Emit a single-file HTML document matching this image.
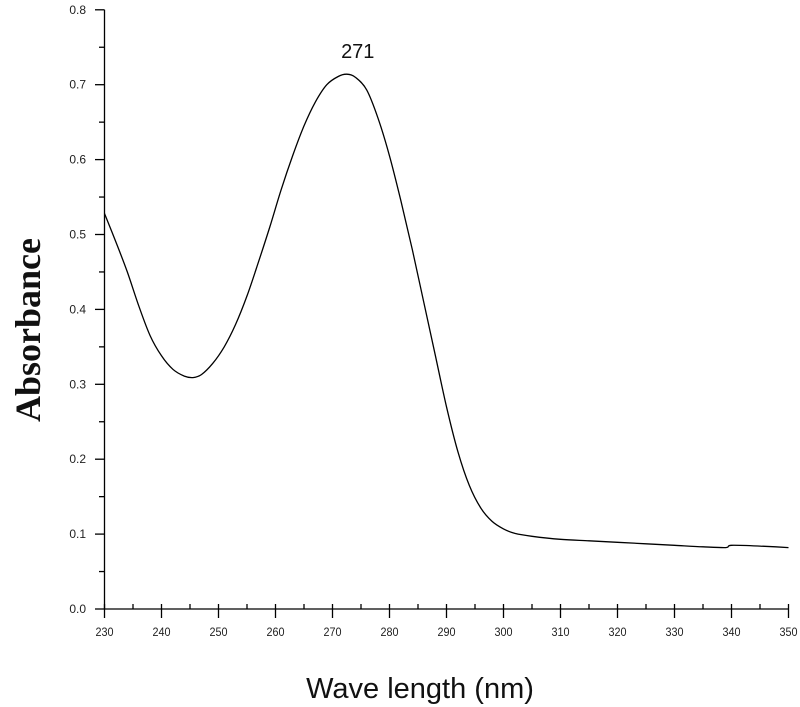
<!DOCTYPE html>
<html><head><meta charset="utf-8"><style>
html,body{margin:0;padding:0;background:#fff;}
svg{display:block;font-family:"Liberation Sans",sans-serif;}
</style></head><body>
<svg id="chart" width="800" height="707"></svg>
<script>
const wavelengths=[230,232,234,236,238,240,242,244,245.5,247,249,251,253,255,257,259,261,263,265,267,269,271,272.5,274,276,278,280,282,284,286,288,290,292,294,296,298,300,302,305,310,315,320,325,330,335,339,340,345,350];
const absorbance=[0.528,0.49,0.45,0.405,0.365,0.338,0.32,0.311,0.309,0.313,0.328,0.35,0.38,0.418,0.463,0.51,0.56,0.605,0.645,0.677,0.7,0.711,0.714,0.71,0.693,0.655,0.605,0.545,0.48,0.41,0.34,0.27,0.21,0.165,0.135,0.117,0.107,0.101,0.097,0.093,0.091,0.089,0.087,0.085,0.083,0.082,0.085,0.084,0.082];
const xTicks=[230,240,250,260,270,280,290,300,310,320,330,340,350];
const yTicks=[0.0,0.1,0.2,0.3,0.4,0.5,0.6,0.7,0.8];
const peakLabel="271";const peakX=272.5;const peakY=0.714;

const NS="http://www.w3.org/2000/svg";
const svg=document.getElementById('chart');
const X=v=>104.5+(v-230)*5.7;
const Y=v=>609-v*749;
function mk(tag,attrs,parent){const e=document.createElementNS(NS,tag);for(const k in attrs)e.setAttribute(k,attrs[k]);(parent||svg).appendChild(e);return e;}

const ax=mk('g',{stroke:'#000','stroke-width':1.3,fill:'none'});


const yl=mk('line',{x1:104.5,y1:Y(0.8),x2:104.5,y2:609},ax);


const xl=mk('line',{x1:104.5,y1:609,x2:X(350),y2:609},ax);



xTicks.forEach((t,i)=>{
  const tk=mk('line',{x1:X(t),y1:604,x2:X(t),y2:618},ax);
  
  
  if(i<xTicks.length-1){const m=mk('line',{x1:X(t+5),y1:604,x2:X(t+5),y2:609},ax);
  
  }
  const tx=mk('text',{x:X(t),y:636,'text-anchor':'middle','font-size':12,fill:'#222',transform:'translate('+X(t)+',0) scale(0.9,1) translate('+(-X(t))+',0)'});
  tx.textContent=t;
  
  
});
yTicks.forEach((t,i)=>{
  const tk=mk('line',{x1:95,y1:Y(t),x2:104.5,y2:Y(t)},ax);
  
  
  if(i<yTicks.length-1){const m=mk('line',{x1:99,y1:Y(t+0.05),x2:104.5,y2:Y(t+0.05)},ax);
  
  }
  const tx=mk('text',{x:86,y:Y(t)+4,'text-anchor':'end','font-size':12,fill:'#222'});
  tx.textContent=t.toFixed(1);
  
  
});

const pts=wavelengths.map((w,i)=>[X(w),Y(absorbance[i])]);
let d='M'+pts[0][0].toFixed(1)+','+pts[0][1].toFixed(1);
for(let i=0;i<pts.length-1;i++){
  const p0=pts[Math.max(0,i-1)],p1=pts[i],p2=pts[i+1],p3=pts[Math.min(pts.length-1,i+2)];
  const c1x=p1[0]+(p2[0]-p0[0])/6,c1y=p1[1]+(p2[1]-p0[1])/6;
  const c2x=p2[0]-(p3[0]-p1[0])/6,c2y=p2[1]-(p3[1]-p1[1])/6;
  d+=' C'+c1x.toFixed(1)+','+c1y.toFixed(1)+' '+c2x.toFixed(1)+','+c2y.toFixed(1)+' '+p2[0].toFixed(1)+','+p2[1].toFixed(1);
}
const p=mk('path',{d:d,fill:'none',stroke:'#000','stroke-width':1.3,'stroke-linejoin':'round'});



const pl=mk('text',{x:X(peakX)+11,y:Y(peakY)-16,'text-anchor':'middle','font-size':20,fill:'#111'});
pl.textContent=peakLabel;



const xt=mk('text',{x:420,y:698,'text-anchor':'middle','font-size':29,fill:'#111'});
xt.textContent='Wave length (nm)';



const yt=mk('text',{x:0,y:0,'text-anchor':'middle','font-size':36,'font-weight':'bold','font-family':'"Liberation Serif",serif',fill:'#111',transform:'translate(40,330) rotate(-90)'});
yt.textContent='Absorbance';


</script>
</body></html>
